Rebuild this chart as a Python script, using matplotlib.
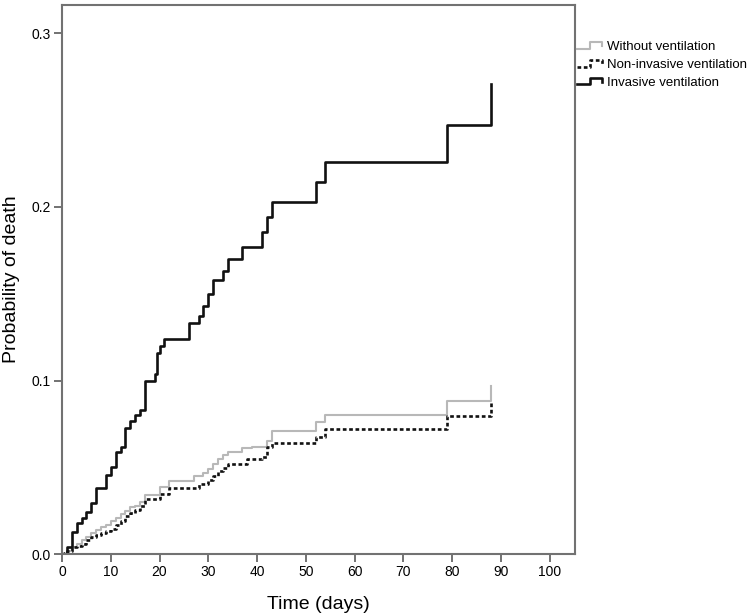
import matplotlib
matplotlib.use("Agg")
import matplotlib.pyplot as plt
from matplotlib.legend_handler import HandlerBase
from matplotlib.lines import Line2D

plt.rcParams['font.family'] = ['Liberation Sans', 'DejaVu Sans']

# Without ventilation (gray)
t_without = [0, 1, 2, 3, 4, 5, 6, 7, 8, 9, 10, 11, 12, 13, 14, 15, 16, 17, 20, 22, 27, 29, 30, 31, 32, 33, 34, 37, 39, 42, 43, 52, 54, 79, 88]
p_without = [0, .002, .004, .006, .008, .010, .012, .014, .016, .017, .019, .021, .023, .025, .027, .028, .030, .034, .039, .042, .045, .047, .049, .052, .055, .057, .059, .061, .062, .065, .071, .076, .080, .088, .097]

# Non-invasive ventilation (dotted)
t_noninv = [0, 0.5, 1, 2, 3, 4, 5, 6, 7, 8, 9, 10, 11, 12, 13, 14, 15, 16, 17, 20, 22, 28, 30, 31, 32, 33, 34, 38, 41, 42, 43, 52, 54, 79, 88]
p_noninv = [0, .001, .002, .004, .005, .006, .008, .0097, .011, .0125, .0135, .0145, .017, .019, .022, .0235, .0255, .028, .032, .035, .038, .0405, .043, .045, .048, .0497, .052, .0547, .056, .062, .0643, .0677, .072, .0796, .088]

# Invasive ventilation (black)
t_inv = [0, 1, 2, 3, 4, 5, 6, 7, 9, 10, 11, 12, 13, 14, 15, 16, 17, 19, 19.5, 20, 21, 26, 28, 29, 30, 31, 33, 34, 37, 41, 42, 43, 52, 54, 79, 88]
p_inv = [0, .0044, .013, .018, .021, .0245, .0295, .038, .0457, .050, .059, .062, .0727, .077, .080, .083, .100, .104, .116, .120, .124, .133, .137, .143, .150, .158, .163, .170, .1768, .1858, .194, .203, .2142, .226, .2472, .2708]

labels = ["Without ventilation", "Non-invasive ventilation", "Invasive ventilation"]
x_ticks = [0, 10, 20, 30, 40, 50, 60, 70, 80, 90, 100]
y_ticks = [0.0, 0.1, 0.2, 0.3]


class StepHandler(HandlerBase):
    def create_artists(self, legend, orig_handle, xdescent, ydescent, width, height, fontsize, trans):
        x0, x1 = -xdescent, -xdescent + width
        xm = x0 + 0.5 * width
        ylo = -ydescent + 0.15 * height
        yhi = -ydescent + 0.85 * height
        ymid = -ydescent + 0.45 * height
        line = Line2D([x0, xm, xm, x1, x1], [ylo, ylo, yhi, yhi, ymid])
        self.update_prop(line, orig_handle, legend)
        line.set_transform(trans)
        return [line]


fig = plt.figure(figsize=(7.56, 6.16), dpi=100)
ax = fig.add_axes([62/756, 1-554.3/616, (575-62)/756, (554.3-5)/616])

h1, = ax.step(t_without, p_without, where='post', color='#b8b8b8', lw=1.5, label=labels[0])
h2, = ax.step(t_noninv, p_noninv, where='post', color='#111111', lw=1.9, linestyle=(0, (1.4, 1.0)), label=labels[1])
h3, = ax.step(t_inv, p_inv, where='post', color='#111111', lw=1.9, label=labels[2])

ax.set_xlim(0, 105.2)
ax.set_ylim(0, 0.3163)
ax.set_xticks(x_ticks)
ax.set_yticks(y_ticks)
ax.set_yticklabels([f"{v:.1f}" for v in y_ticks])
for s in ax.spines.values():
    s.set_color('#727272')
    s.set_linewidth(1.5)
ax.tick_params(axis='both', colors='#727272', labelcolor='black', labelsize=10, length=6, width=1.4, pad=2)

ax.set_xlabel("Time (days)", fontsize=14, labelpad=12)
ax.set_ylabel("Probability of death", fontsize=14, labelpad=8)

fig.legend(handles=[h1, h2, h3], labels=labels, loc='upper left',
           bbox_to_anchor=(577/756, 1 - 41/616), frameon=False, fontsize=9.5,
           handlelength=1.9, handletextpad=0.35, labelspacing=0.42, borderaxespad=0.0,
           borderpad=0.0, handler_map={Line2D: StepHandler()})

fig.savefig("out.png", dpi=100)
